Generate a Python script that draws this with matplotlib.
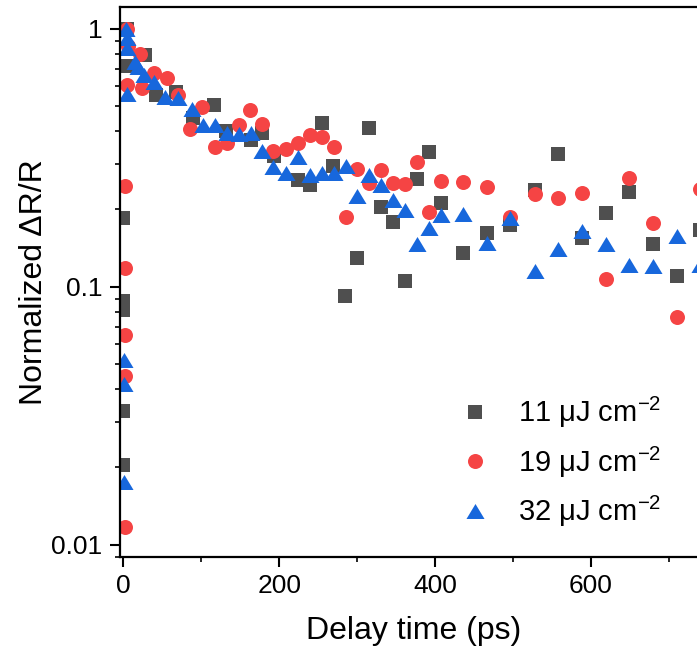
import matplotlib
matplotlib.use("Agg")
import matplotlib.pyplot as plt
from matplotlib import ticker

plt.rcParams['font.family'] = ['Liberation Sans', 'DejaVu Sans']
plt.rcParams['mathtext.fontset'] = 'custom'
plt.rcParams['mathtext.rm'] = 'Liberation Sans'
plt.rcParams['mathtext.it'] = 'Liberation Sans:italic'
plt.rcParams['mathtext.bf'] = 'Liberation Sans:bold'

# 11 uJ cm-2 (grey squares)
t11 = [-0.5, -0.5, -0.5, -0.5, -0.5, 4.4, 4.4, 27.2, 42.0, 67.2, 88.9, 116.3, 131.1,
       163.1, 178.0, 192.8, 224.3, 239.1, 254.5, 269.3, 284.2, 300.2, 315.5, 331.0,
       345.9, 361.3, 376.2, 391.6, 407.5, 436.1, 466.4, 496.6, 527.5, 557.7, 588.0,
       618.9, 649.1, 679.4, 710.2, 739.9]
r11 = [0.185, 0.088, 0.081, 0.033, 0.0204, 1.0, 0.72, 0.79, 0.555, 0.57, 0.453, 0.506,
       0.40, 0.37, 0.393, 0.32, 0.259, 0.248, 0.43, 0.294, 0.0917, 0.129, 0.411, 0.204,
       0.179, 0.105, 0.262, 0.333, 0.212, 0.135, 0.161, 0.173, 0.237, 0.327, 0.154,
       0.194, 0.233, 0.146, 0.110, 0.166]

# 19 uJ cm-2 (red circles)
t19 = [2.0, 2.0, 2.0, 2.0, 2.0, 4.35, 5.5, 21.5, 4.6, 23.8, 38.6, 55.7, 70.6, 85.4,
       101.4, 117.4, 132.3, 147.7, 162.5, 177.4, 192.2, 208.2, 223.7, 239.1, 254.5,
       269.9, 285.3, 300.2, 315.5, 331.0, 345.9, 361.3, 376.2, 392.1, 408.1, 436.1,
       466.4, 496.6, 527.5, 557.7, 588.0, 618.9, 649.1, 679.4, 710.2, 739.9]
r19 = [0.245, 0.118, 0.065, 0.045, 0.0117, 1.0, 0.86, 0.80, 0.605, 0.588, 0.676, 0.643,
       0.555, 0.41, 0.498, 0.349, 0.36, 0.425, 0.484, 0.428, 0.336, 0.343, 0.36, 0.387,
       0.38, 0.347, 0.186, 0.287, 0.253, 0.284, 0.252, 0.25, 0.305, 0.195, 0.258,
       0.255, 0.243, 0.187, 0.229, 0.22, 0.23, 0.107, 0.265, 0.176, 0.0766, 0.24]

# 32 uJ cm-2 (blue triangles)
t32 = [0.9, 0.9, 0.9, 3.2, 4.35, 4.35, 4.35, 15.2, 19.2, 26.1, 38.6, 53.5, 70.6, 87.7,
       102.6, 117.4, 132.8, 147.8, 163.1, 177.4, 192.2, 208.8, 224.3, 239.3, 254.5,
       270.5, 285.3, 300.2, 315.5, 331.0, 345.9, 361.3, 376.7, 392.1, 408.1, 436.1,
       466.4, 496.6, 527.5, 557.7, 588.0, 618.9, 649.1, 679.4, 710.2, 739.9]
r32 = [0.052, 0.042, 0.0175, 1.0, 0.92, 0.84, 0.56, 0.745, 0.713, 0.662, 0.623, 0.545,
       0.537, 0.49, 0.423, 0.423, 0.393, 0.39, 0.396, 0.337, 0.29, 0.277, 0.319, 0.271,
       0.275, 0.275, 0.295, 0.225, 0.272, 0.248, 0.217, 0.198, 0.146, 0.169, 0.19,
       0.192, 0.148, 0.184, 0.115, 0.14, 0.164, 0.147, 0.121, 0.12, 0.158, 0.121]

labels = ['11 \u03bcJ cm$^{-2}$', '19 \u03bcJ cm$^{-2}$', '32 \u03bcJ cm$^{-2}$']
colors = ['#4f4f4f', '#f54444', '#1767dc']

tri = [(-1, -0.83), (1, -0.83), (0, 0.83), (-1, -0.83)]

fig = plt.figure(figsize=(6.97, 6.55), dpi=100)
ax = fig.add_axes([0.1727, 0.1496, 0.8429, 0.840])

ax.plot(t11, r11, ls='none', marker='s', ms=9.6, mew=0, color=colors[0], label=labels[0])
ax.plot(t19, r19, ls='none', marker='o', ms=10.8, mew=0, color=colors[1], label=labels[1])
ax.plot(t32, r32, ls='none', marker=tri, ms=13, mew=0, color=colors[2], label=labels[2])

ax.set_yscale('log')
ax.set_xlim(-4, 750)
ax.set_ylim(0.00896, 1.217)
ax.set_xticks([0, 200, 400, 600])
ax.xaxis.set_minor_locator(ticker.MultipleLocator(100))
ax.yaxis.set_major_locator(ticker.LogLocator(base=10))
ax.yaxis.set_minor_locator(ticker.LogLocator(base=10, subs=range(2, 10)))
ax.yaxis.set_major_formatter(ticker.FuncFormatter(lambda v, p: f'{v:g}'))
ax.yaxis.set_minor_formatter(ticker.NullFormatter())

for s in ax.spines.values():
    s.set_linewidth(1.6)
ax.tick_params(which='major', direction='out', length=7, width=1.5, labelsize=19, pad=5)
ax.tick_params(axis='y', which='major', pad=6)
ax.tick_params(which='minor', direction='out', length=3.5, width=1.2)

ax.set_xlabel('Delay time (ps)', fontsize=23)
ax.set_ylabel('Normalized \u0394R/R', fontsize=23)
ax.xaxis.set_label_coords(0.5, -0.107)
ax.yaxis.set_label_coords(-0.122, 0.5)

ax.legend(loc='center left', bbox_to_anchor=(0.66, 0.2947), bbox_transform=fig.transFigure,
          frameon=False, fontsize=21, handlelength=1.0, handletextpad=1.0,
          labelspacing=0.5, borderpad=0, borderaxespad=0)

fig.savefig('out.png', dpi=100)
